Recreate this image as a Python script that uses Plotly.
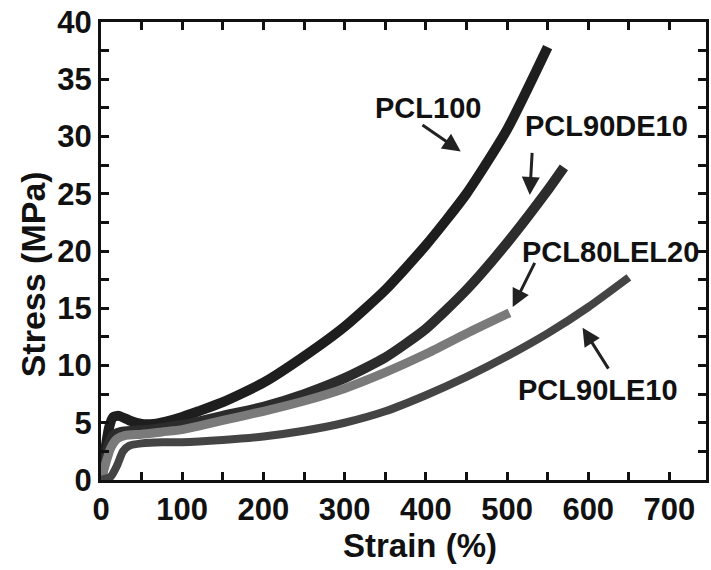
import plotly.graph_objects as go

# Tensile stress-strain curves for the PCL blends
strain_pcl100 = [0, 5, 10, 15, 22, 35, 50, 65, 80, 100, 120, 150, 200, 250, 300, 350, 400, 450, 500, 550]
stress_pcl100 = [0, 2.5, 4.6, 5.5, 5.6, 5.2, 4.9, 4.9, 5.1, 5.5, 6.0, 6.8, 8.5, 10.8, 13.4, 16.6, 20.5, 25.0, 30.6, 37.8]

strain_pcl90de10 = [0, 5, 10, 15, 25, 40, 60, 80, 100, 120, 150, 200, 250, 300, 350, 400, 450, 500, 550, 570]
stress_pcl90de10 = [0, 1.8, 3.2, 3.9, 4.2, 4.3, 4.4, 4.6, 4.8, 5.1, 5.6, 6.4, 7.5, 8.9, 10.7, 13.2, 16.6, 20.7, 25.3, 27.3]

strain_pcl80lel20 = [0, 6, 12, 20, 30, 50, 75, 100, 120, 150, 200, 250, 300, 350, 400, 450, 503]
stress_pcl80lel20 = [0, 1.5, 2.8, 3.6, 3.9, 4.0, 4.2, 4.4, 4.7, 5.2, 6.0, 6.9, 8.0, 9.4, 11.0, 12.8, 14.6]

strain_pcl90le10 = [0, 12, 20, 27, 35, 50, 75, 100, 150, 200, 250, 300, 350, 400, 450, 500, 550, 600, 650]
stress_pcl90le10 = [0, 0.3, 1.3, 2.5, 3.0, 3.2, 3.3, 3.3, 3.5, 3.8, 4.3, 5.0, 6.0, 7.4, 9.0, 10.8, 12.8, 15.1, 17.7]

labels = ["PCL100", "PCL90DE10", "PCL80LEL20", "PCL90LE10"]
x_ticks = [0, 100, 200, 300, 400, 500, 600, 700]
y_ticks = [0, 5, 10, 15, 20, 25, 30, 35, 40]

FONT = "Arial, Liberation Sans, sans-serif"

series = [
    (strain_pcl100, stress_pcl100, "#1e1e1e", 10),
    (strain_pcl90de10, stress_pcl90de10, "#2c2c2c", 10),
    (strain_pcl80lel20, stress_pcl80lel20, "#7a7a7a", 9),
    (strain_pcl90le10, stress_pcl90le10, "#444444", 8),
]

fig = go.Figure()
for (sx, sy, col, w), name in zip(series, labels):
    fig.add_trace(go.Scatter(
        x=sx, y=sy, mode="lines", name=name,
        line=dict(color=col, width=w, shape="spline", smoothing=0.6),
        showlegend=False,
    ))

# curve labels and their pointer arrows (all in data coordinates)
label_pos = [(403, 32.5), (622, 30.9), (628, 19.9), (612, 7.9)]
arrow_tail = [(394, 31.1), (531, 28.7), (535, 19.1), (626, 9.6)]
arrow_head = [(443, 28.7), (528, 24.9), (507, 15.1), (593, 13.3)]

for name, (tx, ty) in zip(labels, label_pos):
    fig.add_annotation(
        x=tx, y=ty, xref="x", yref="y", text="<b>%s</b>" % name,
        showarrow=False, font=dict(family=FONT, size=29, color="#111"),
    )
for (ax, ay), (hx, hy) in zip(arrow_tail, arrow_head):
    fig.add_annotation(
        x=hx, y=hy, ax=ax, ay=ay, xref="x", yref="y", axref="x", ayref="y",
        text="", showarrow=True, arrowhead=2, arrowsize=1.2, arrowwidth=3,
        arrowcolor="#222",
    )

W, H = 711, 570
ML, MR, MT, MB = 101, 2, 22, 90


def px_to_paper(px, py):
    return (px - ML) / (W - ML - MR), (H - MB - py) / (H - MB - MT)


# axis titles, placed by pixel centre
tx, ty = px_to_paper(422, 545)
fig.add_annotation(
    x=tx, y=ty, xref="paper", yref="paper", xanchor="center", yanchor="middle",
    text="<b>Strain (%)</b>", showarrow=False,
    font=dict(family=FONT, size=33, color="#111"),
)
tx, ty = px_to_paper(33, 274)
fig.add_annotation(
    x=tx, y=ty, xref="paper", yref="paper", xanchor="center", yanchor="middle",
    text="<b>Stress (MPa)</b>", showarrow=False, textangle=-90,
    font=dict(family=FONT, size=34, color="#111"),
)

axis_common = dict(
    showgrid=False, zeroline=False, showline=True, linecolor="#111", linewidth=3,
    mirror="ticks", ticks="inside", ticklen=8, tickwidth=2.5, tickcolor="#111",
    tickfont=dict(family=FONT, size=31, color="#111"),
)

fig.update_xaxes(
    range=[0, 745], tickvals=x_ticks, ticktext=["<b>%d</b>" % v for v in x_ticks],
    minor=dict(ticks="inside", dtick=50, tick0=0, ticklen=8, tickwidth=2.5, tickcolor="#111"),
    **axis_common,
)
fig.update_yaxes(
    range=[0, 40], tickvals=y_ticks, ticktext=["<b>%d</b>" % v for v in y_ticks],
    minor=dict(ticks="inside", dtick=2.5, tick0=0, ticklen=8, tickwidth=2.5, tickcolor="#111"),
    **axis_common,
)

fig.update_layout(
    width=W, height=H, margin=dict(l=ML, r=MR, t=MT, b=MB),
    plot_bgcolor="white", paper_bgcolor="white",
)

fig.write_html("out.html")
